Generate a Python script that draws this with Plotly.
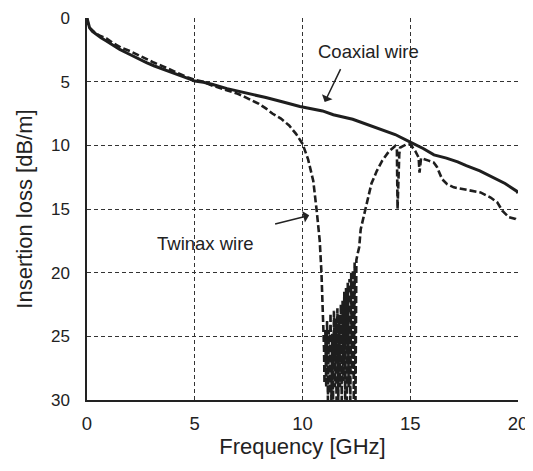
import plotly.graph_objects as go

# Coaxial wire (solid)
coax_f = [0.0, 0.05, 0.12, 0.25, 0.43, 0.65, 0.9, 1.2, 1.52, 1.85, 2.14, 2.45, 2.76, 3.1,
          3.53, 3.9, 4.3, 4.65, 5.0, 5.4, 5.8, 6.5, 7.3, 8.3, 9.1, 9.88, 10.93, 11.43,
          12.33, 13.0, 13.57, 14.3, 15.0, 15.6, 16.1, 16.68, 17.2, 17.6, 18.23, 18.9,
          19.4, 19.94, 20.0]
coax_il = [0.0, 0.45, 0.78, 1.05, 1.3, 1.55, 1.8, 2.15, 2.47, 2.75, 3.0, 3.25, 3.5, 3.75,
           4.04, 4.28, 4.5, 4.72, 4.95, 5.05, 5.2, 5.55, 5.85, 6.25, 6.6, 6.95, 7.3, 7.6,
           7.95, 8.35, 8.7, 9.15, 9.75, 10.25, 10.75, 11.0, 11.3, 11.6, 12.0, 12.6,
           13.0, 13.6, 13.75]

# Twinax wire (dashed)
twin_f = [0.0, 0.05, 0.12, 0.25, 0.4, 0.6, 0.9, 1.2, 1.6, 2.0, 2.4, 2.76, 3.1, 3.53, 3.9,
          4.3, 4.65, 5.0, 5.4, 5.8, 6.2, 6.58, 7.0, 7.36, 7.98, 8.3, 8.6, 9.0, 9.38, 9.7,
          10.0, 10.26, 10.5, 10.65, 10.8, 10.88, 10.95, 11.0, 11.02, 11.06, 11.1, 11.14,
          11.18, 11.22, 11.26, 11.3, 11.34, 11.38, 11.42, 11.46, 11.5, 11.54, 11.58, 11.62,
          11.66, 11.7, 11.74, 11.78, 11.82, 11.86, 11.9, 11.94, 11.98, 12.02, 12.06, 12.1,
          12.14, 12.18, 12.22, 12.26, 12.3, 12.34, 12.38, 12.42, 12.46, 12.5, 12.56, 12.63,
          12.7, 12.9, 13.2, 13.45, 13.7, 14.0, 14.3, 14.38, 14.41, 14.49, 14.53, 14.77,
          15.0, 15.23, 15.39, 15.43, 15.5, 15.85, 16.09, 16.24, 16.48, 16.71, 17.02, 17.64,
          18.26, 18.73, 19.04, 19.27, 19.58, 19.89, 20.0]
twin_il = [0.0, 0.45, 0.75, 1.0, 1.2, 1.4, 1.6, 1.95, 2.35, 2.6, 2.95, 3.25, 3.5, 3.8, 4.1,
           4.4, 4.65, 4.85, 5.0, 5.3, 5.5, 5.7, 5.95, 6.23, 6.75, 7.1, 7.5, 7.9, 8.44, 9.1,
           9.87, 11.1, 12.8, 15.0, 17.5, 20.0, 23.0, 26.0, 28.7, 24.5, 29.0, 23.8,
           30.0, 24.5, 29.5, 23.2, 30.0, 24.8, 30.0, 23.0, 29.0, 23.6, 30.0, 22.8,
           30.0, 23.3, 29.0, 22.5, 30.0, 22.2, 28.5, 21.5, 30.0, 21.2, 30.0, 20.8,
           29.0, 20.5, 30.0, 20.0, 28.0, 19.8, 30.0, 19.2, 30.0, 19.0, 18.5, 18.0,
           16.6, 15.1, 13.0, 12.0, 11.2, 10.5, 10.05, 10.3, 15.0, 10.7, 10.18, 9.97,
           9.92, 10.44, 10.96, 12.14, 11.0, 11.2, 11.35, 11.7, 12.66, 13.05, 13.3, 13.5,
           13.7, 14.1, 14.48, 15.13, 15.65, 15.78, 15.9]

x_ticks = [0, 5, 10, 15, 20]
y_ticks = [0, 5, 10, 15, 20, 25, 30]

FONT = "Liberation Sans, Arial, sans-serif"
LINE = "#1e1e1e"
TXT = "#222"

fig = go.Figure()
fig.add_trace(go.Scatter(x=twin_f, y=twin_il, mode="lines", name="Twinax wire",
                         line=dict(color=LINE, width=2.6, dash="7px,3px")))
fig.add_trace(go.Scatter(x=coax_f, y=coax_il, mode="lines", name="Coaxial wire",
                         line=dict(color=LINE, width=3)))

# labels + arrows
fig.add_annotation(x=13.06, y=2.6, text="Coaxial wire", showarrow=False,
                   font=dict(family=FONT, size=18.5, color=TXT))
fig.add_annotation(x=11.03, y=6.6, ax=11.8, ay=3.9, axref="x", ayref="y",
                   text="", showarrow=True, arrowhead=1, arrowsize=1.3,
                   arrowwidth=1.5, arrowcolor=TXT)
fig.add_annotation(x=5.5, y=17.7, text="Twinax wire", showarrow=False,
                   font=dict(family=FONT, size=18.5, color=TXT))
fig.add_annotation(x=10.31, y=15.5, ax=8.66, ay=16.2, axref="x", ayref="y",
                   text="", showarrow=True, arrowhead=1, arrowsize=1.3,
                   arrowwidth=1.5, arrowcolor=TXT)

# page body has an 8px margin: figure sized so the page doesn't scroll,
# margins shifted to compensate
fig.update_layout(
    width=525, height=455,
    margin=dict(l=79, r=15, t=10, b=63),
    plot_bgcolor="white", paper_bgcolor="white",
    showlegend=False,
    font=dict(family=FONT, size=18.5, color=TXT),
)
fig.update_xaxes(
    range=[0, 20], tickvals=x_ticks, showgrid=True, gridcolor="#333", gridwidth=1,
    griddash="4px,3px", zeroline=False, showline=True, linecolor="#222", linewidth=1.5,
    ticks="", ticklabelstandoff=6, ticklabeloverflow="allow", automargin=False,
    title=dict(text="Frequency [GHz]", standoff=0),
)
fig.update_yaxes(
    range=[30, 0], tickvals=y_ticks, showgrid=True, gridcolor="#333", gridwidth=1,
    griddash="4px,3px", zeroline=False, showline=True, linecolor="#222", linewidth=1.5,
    ticks="", ticklabelstandoff=12, ticklabeloverflow="allow", automargin=False,
    tickfont=dict(size=17),
    title=dict(text="Insertion loss [dB/m]", standoff=12),
)

fig.write_html("out.html")
